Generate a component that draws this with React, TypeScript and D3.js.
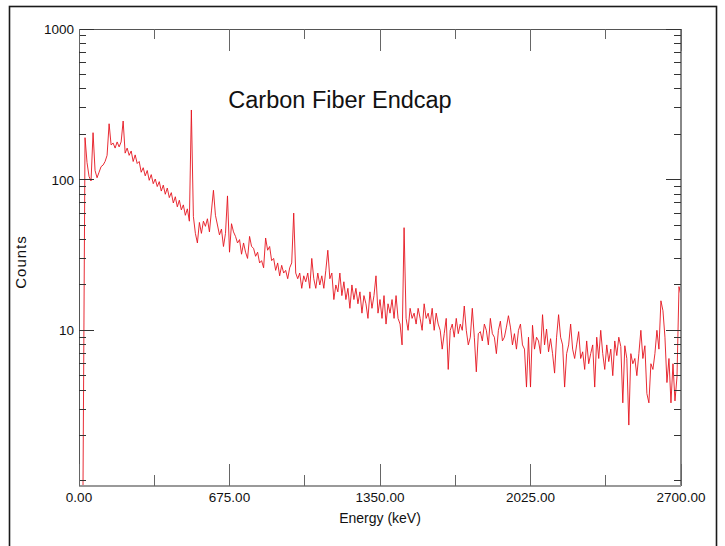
import React from 'react';
import * as d3 from 'd3';

const TITLE = 'Carbon Fiber Endcap';
const X_LABEL = 'Energy (keV)';
const Y_LABEL = 'Counts';
const X_MAJOR = [0, 675, 1350, 2025, 2700];
const X_MINOR = [337.5, 1012.5, 1687.5, 2362.5];
const Y_LABELED = [10, 100, 1000];
const ENERGY_MAX = 2700;
const ENERGY_STEP = 9; // keV per channel

// Counts per 9 keV channel (0 .. 2700 keV)
const COUNTS_0_531 = [
  0.5, 0.5, 0.5, 190, 130, 105, 98, 205, 115, 103, 112, 122, 125, 132, 145, 235, 170, 175, 162, 178,
  165, 178, 245, 150, 162, 145, 155, 132, 146, 128, 132, 112, 120, 106, 115, 99, 108, 94, 101, 90,
  97, 84, 92, 80, 88, 76, 82, 70, 77, 66, 73, 63, 68, 58, 64, 53, 290, 57, 44, 38,
];
const COUNTS_540_891 = [
  52, 44, 53, 49, 55, 45, 62, 85, 58, 50, 43, 47, 36, 44, 78, 33, 51, 45, 42, 38,
  40, 32, 38, 33, 30, 42, 36, 35, 31, 33, 28, 29, 26, 41, 34, 36, 29, 30, 25, 28,
];
const COUNTS_900_1431 = [
  23, 27, 24, 25, 22, 26, 28, 60, 24, 22, 24, 19, 23, 21, 24, 19, 30, 22, 19, 24,
  20, 23, 19, 25, 34, 22, 24, 16, 20, 18, 24, 17, 21, 16, 19, 14, 20, 16, 19, 15,
  18, 13, 17, 15, 12, 18, 14, 17, 23, 13, 16, 12, 17, 11, 15, 13, 16, 12, 17, 12,
];
const COUNTS_1440_1971 = [
  11, 8, 48, 12, 10, 14, 12, 13, 11, 14, 12, 10, 15, 12, 13, 11, 14, 10, 13, 11,
  10, 7.5, 9.5, 12, 5.5, 10, 11, 9, 12, 9.5, 11, 10, 14.5, 10, 8, 9, 14, 9, 5.3, 9.5,
  9.8, 8.5, 11, 10, 8, 12, 9.5, 9, 7, 10, 11.5, 8.5, 9, 10.5, 12.5, 10.5, 8, 9.5, 7.5, 10,
];
const COUNTS_1980_2700 = [
  11, 8, 7.5, 4.2, 9, 4.2, 10.8, 7.5, 9, 8.5, 7, 12.7, 8, 10.2, 7.2, 8.8, 7, 5.2, 9, 12.7,
  9, 8, 4.2, 7, 8, 11, 7.5, 6.5, 8, 9.8, 6.5, 7.2, 5.5, 8.5, 6, 7, 8, 4.2, 9, 6.5,
  10, 7, 5.5, 8, 6.2, 7.5, 5, 8.5, 6.8, 9, 7.8, 3.3, 7.9, 6.5, 2.35, 7, 6, 6.5, 5, 7,
  10, 6.5, 7.9, 3.8, 3.3, 6, 5.5, 7, 10, 7.5, 15.7, 13.5, 9, 4.5, 6.5, 3.3, 6, 3.4, 4.9, 19.5, 17,
];
const COUNTS = [
  ...COUNTS_0_531,
  ...COUNTS_540_891,
  ...COUNTS_900_1431,
  ...COUNTS_1440_1971,
  ...COUNTS_1980_2700,
];

const FONT = '"Liberation Sans", Arial, Helvetica, sans-serif';

export default function App() {
  const W = 725;
  const H = 546;
  const L = 79, R = 681, T = 29, B = 486;

  const x = d3.scaleLinear().domain([0, ENERGY_MAX]).range([L, R]);
  const y = d3.scaleLog().domain([0.926, 1000]).range([B, T]).clamp(true);

  const line = d3
    .line<number>()
    .x((_, i) => x(i * ENERGY_STEP))
    .y((v) => y(v));

  const yMinor: number[] = [];
  for (const d of [1, 10, 100]) {
    for (let k = 1; k <= 9; k++) {
      const v = k * d;
      if (Y_LABELED.includes(v)) continue;
      if (v >= y.domain()[0] && v <= 1000) yMinor.push(v);
    }
  }

  const axisCol = '#555';
  const tickCol = '#333';

  return (
    <svg
      width={W}
      height={H}
      style={{ position: 'absolute', left: 0, top: 0, background: '#fff' }}
      fontFamily={FONT}
    >
      <rect x={0} y={0} width={W} height={H} fill="#fff" />
      {/* outer frame */}
      <rect x={9.5} y={6.5} width={707} height={600} fill="none" stroke="#1a1a1a" strokeWidth={1.6} />

      {/* data */}
      <path d={line(COUNTS) || ''} fill="none" stroke="#e5141e" strokeWidth={0.9} strokeLinejoin="miter" />

      {/* axes box */}
      <g shapeRendering="crispEdges">
        <line x1={L} x2={L} y1={T} y2={B} stroke={axisCol} />
        <line x1={R} x2={R} y1={T} y2={B} stroke="#888" strokeWidth={1.5} />
        <line x1={L} x2={R} y1={T} y2={T} stroke={axisCol} />
        <line x1={L} x2={R} y1={B} y2={B} stroke="#999" strokeWidth={1.5} />

        {/* y ticks */}
        {yMinor.map((v) => (
          <g key={'ym' + v}>
            <line x1={L} x2={L + 7} y1={y(v)} y2={y(v)} stroke={tickCol} />
            <line x1={R - 7} x2={R} y1={y(v)} y2={y(v)} stroke={tickCol} />
          </g>
        ))}
        {Y_LABELED.map((v) => (
          <g key={'yM' + v}>
            <line x1={L} x2={L + 15} y1={y(v)} y2={y(v)} stroke={tickCol} />
            <line x1={R - 15} x2={R} y1={y(v)} y2={y(v)} stroke={tickCol} />
          </g>
        ))}

        {/* x ticks */}
        {X_MINOR.map((v) => (
          <g key={'xm' + v}>
            <line x1={x(v)} x2={x(v)} y1={B} y2={B - 11} stroke="#666" />
            <line x1={x(v)} x2={x(v)} y1={T} y2={T + 10} stroke="#666" />
          </g>
        ))}
        {X_MAJOR.map((v) => (
          <g key={'xM' + v}>
            <line x1={x(v)} x2={x(v)} y1={B} y2={B - 22} stroke="#666" />
            <line x1={x(v)} x2={x(v)} y1={T} y2={T + 22} stroke="#666" />
          </g>
        ))}
      </g>

      {/* y labels */}
      {Y_LABELED.map((v) => (
        <text key={'yl' + v} x={74} y={y(v)} dy="0.36em" textAnchor="end" fontSize={13.5} fill="#111">
          {String(v)}
        </text>
      ))}
      {/* x labels */}
      {X_MAJOR.map((v) => (
        <text key={'xl' + v} x={x(v)} y={501.5} textAnchor="middle" fontSize={13.5} fill="#111">
          {v.toFixed(2)}
        </text>
      ))}

      <text x={380} y={522.5} textAnchor="middle" fontSize={14} fill="#111">
        {X_LABEL}
      </text>
      <text
        transform={`translate(26,262) rotate(-90)`}
        textAnchor="middle"
        fontSize={15}
        letterSpacing={1}
        fill="#111"
      >
        {Y_LABEL}
      </text>

      <text x={340} y={107.5} textAnchor="middle" fontSize={23.5} fill="#111">
        {TITLE}
      </text>
    </svg>
  );
}
